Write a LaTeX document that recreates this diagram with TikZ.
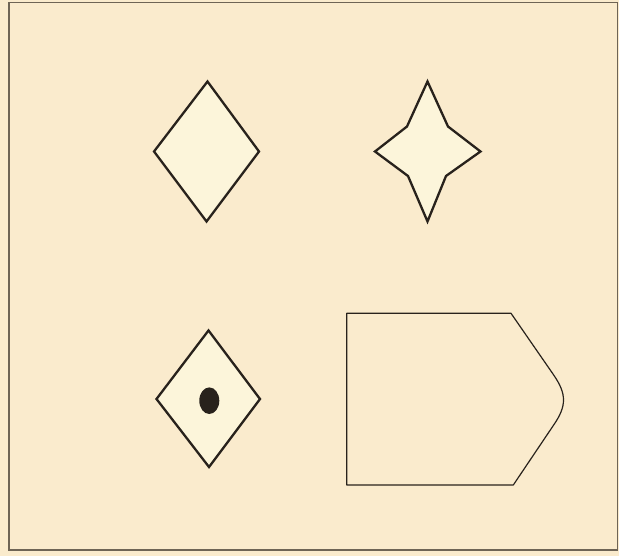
\documentclass[tikz,border=0pt]{standalone}
\begin{document}
\begin{tikzpicture}[x=1pt,y=-1pt,
  bg/.style={fill=bgc},
  thick shape/.style={draw=inkc,line width=2.3pt,fill=innerc,line join=miter},
  thin shape/.style={draw=inkc,line width=1.2pt,line join=round}]
\definecolor{bgc}{RGB}{250,235,205}
\definecolor{innerc}{RGB}{252,245,218}
\definecolor{inkc}{RGB}{40,34,28}
\definecolor{framec}{RGB}{110,100,85}
\useasboundingbox (0,0) rectangle (619,556);
\fill[bgc] (0,0) rectangle (619,556);
% frame
\draw[framec,line width=1.1pt] (9,2.5) rectangle (617.5,550);
% plain diamond
\draw[thick shape] (207.5,81.5) -- (259,151.5) -- (206.5,221.5) -- (154,151.5) -- cycle;
% four-pointed star
\draw[thick shape] (427.5,81.5) -- (407,126.5) -- (375,151.5) -- (408,176) -- (427.5,221.5)
  -- (446,176) -- (480.5,151.5) -- (448,126.5) -- cycle;
% diamond with dot
\draw[thick shape] (208.5,330.5) -- (260,399) -- (209,467) -- (156.5,399) -- cycle;
\fill[inkc] (209.3,400.7) ellipse [x radius=10, y radius=13.3];
% pentagon with rounded point
\draw[thin shape] (346.7,313.3) -- (511,313.3) -- (553,374)
  .. controls (567,394) and (567,406) .. (553,426)
  -- (513.3,485) -- (346.7,485) -- cycle;
\end{tikzpicture}
\end{document}
